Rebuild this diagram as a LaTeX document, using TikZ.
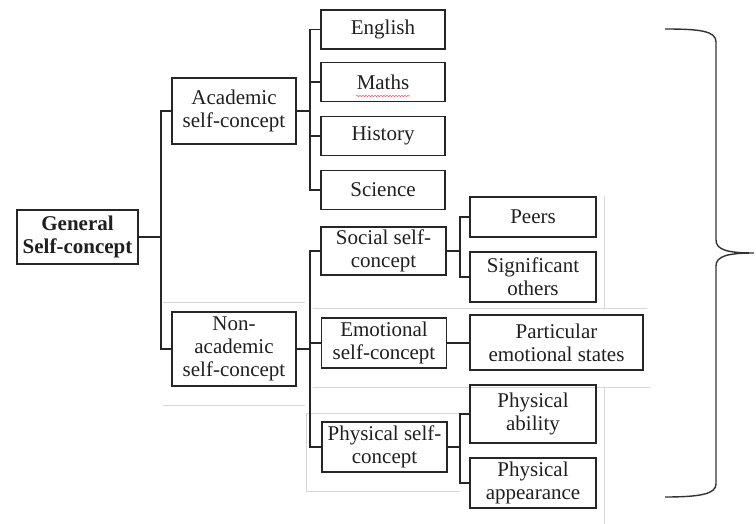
\documentclass[tikz,border=0pt]{standalone}
\usepackage{fontspec}
\setmainfont{Liberation Serif}
\usetikzlibrary{decorations.pathmorphing}
\begin{document}
\begin{tikzpicture}[x=1pt,y=-1pt,
  box/.style={draw=black!85, line width=1.5pt, align=center, inner sep=0pt, text=black!88,
    font=\fontsize{21}{23}\selectfont},
  leaf/.style={box, minimum width=124pt, minimum height=39pt},
  mid/.style={box, minimum width=125pt, minimum height=50pt},
  sub/.style={box, minimum width=126pt, minimum height=50pt},
  conn/.style={draw=black!85, line width=1.2pt},
  faint/.style={draw=black!16, line width=0.8pt},
  bracestyle/.style={draw=black!80, line width=1.4pt}]
\useasboundingbox (0,0) rectangle (756,524);

% faint table borders
\draw[faint] (163,302) -- (305,302);
\draw[faint] (163,405) -- (305,405);
\draw[faint] (313,308) -- (647,308);
\draw[faint] (313,387) -- (650,387);
\draw[faint] (306,413) -- (460,413);
\draw[faint] (306,413) -- (306,491) -- (460,491);
\draw[faint] (604,196) -- (604,308);
\draw[faint] (604,387) -- (604,524);

% nodes
\node[box, minimum width=121pt, minimum height=54pt, font=\fontsize{21}{23}\selectfont\bfseries] (gen) at (77.5,237) {General\\Self-concept};
\node[box, minimum width=124pt, minimum height=66pt] (acad) at (234,111) {Academic\\self-concept};
\node[box, minimum width=124pt, minimum height=74pt] (nonacad) at (234,349) {Non-\\academic\\self-concept};

\node[leaf] (english) at (383,29.5) {English};
\node[leaf] (maths) at (383,82) {Maths};
\node[leaf] (history) at (383,136) {History};
\node[leaf] (science) at (383,190) {Science};

\node[mid, minimum height=48pt] (social) at (383.5,251) {Social self-\\concept};
\node[mid] (emotional) at (384,343) {Emotional\\self-concept};
\node[mid] (physical) at (384.5,447) {Physical self-\\concept};

\node[sub, minimum height=40pt] (peers) at (533,217) {Peers};
\node[sub] (signif) at (533,277) {Significant\\others};
\node[box, minimum width=173pt, minimum height=55pt] (partic) at (556.5,342.5) {Particular\\emotional states};
\node[sub, minimum height=58pt] (pability) at (533,414) {Physical\\ability};
\node[sub] (pappear) at (533,483) {Physical\\appearance};

% spell-check squiggle under Maths
\draw[red!65, line width=0.6pt, decorate, decoration={snake, amplitude=0.7pt, segment length=3pt}]
  (maths.center) ++(-27,14) -- ++(54,0);

% connectors
\coordinate (b1) at (161,237);
\draw[conn] (gen.east) -- (b1);
\draw[conn] (acad.west) -| (b1) |- (nonacad.west);

\coordinate (b2) at (310,111);
\draw[conn] (acad.east) -- (b2);
\draw[conn] (english.west) -| (b2) |- (science.west);
\draw[conn] (maths.west) -- (maths.west -| b2);
\draw[conn] (history.west) -- (history.west -| b2);

\coordinate (b3) at (310,349);
\draw[conn] (nonacad.east) -- (b3);
\draw[conn] (social.west) -| (b3) |- (physical.west);
\draw[conn] (emotional.west) -- (emotional.west -| b3);

\coordinate (b4) at (460,251);
\draw[conn] (social.east) -- (b4);
\draw[conn] (peers.west) -| (b4) |- (signif.west);

\draw[conn] (emotional.east) -- (emotional.east -| partic.west);

\coordinate (b5) at (460,447);
\draw[conn] (physical.east) -- (b5);
\draw[conn] (pability.west) -| (b5) |- (pappear.west);

% brace
\draw[bracestyle] (665,29) .. controls (700,29) and (716,31) .. (716,42)
  -- (716,240) .. controls (716,250) and (728,253) .. (754,253)
  .. controls (728,253) and (716,256) .. (716,266)
  -- (716,484) .. controls (716,494) and (700,497) .. (665,497);
\end{tikzpicture}
\end{document}
